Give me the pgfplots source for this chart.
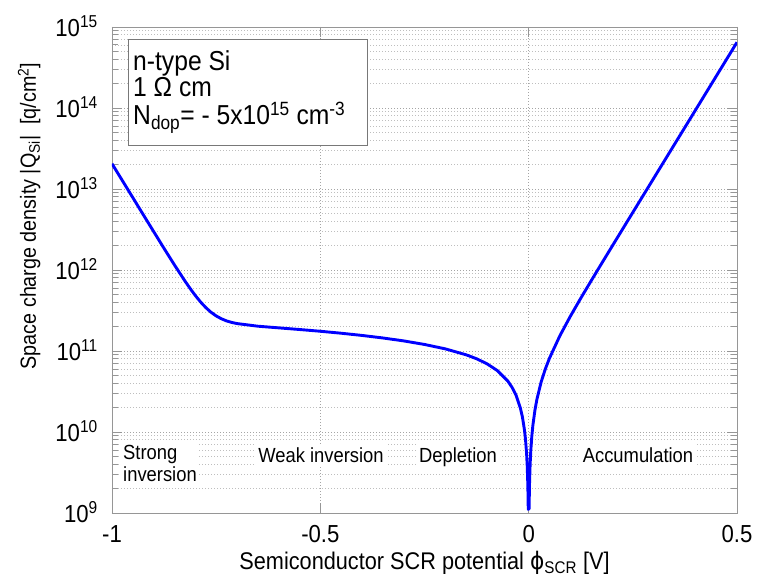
\documentclass[border=0pt]{standalone}
\usepackage{fontspec}
\setmainfont[FakeStretch=0.9]{Liberation Sans}
\newfontfamily\greekfont[FakeStretch=0.9]{DejaVu Sans}
\usepackage{pgfplots}
\pgfplotsset{compat=1.18}
\usepackage{pgfplotstable}

\definecolor{axisgray}{RGB}{150,150,150}
\definecolor{gridgray}{RGB}{165,165,165}
\definecolor{mingridgray}{RGB}{190,190,190}
\definecolor{boxgray}{RGB}{120,120,120}
\definecolor{curveblue}{RGB}{0,0,255}

% Space charge density |Q_Si| (q/cm^2) versus surface potential, n-type Si
\pgfplotstableread{
psi      Q
-1.000   2.051e13
-0.975   1.266e13
-0.950   7.82e12
-0.925   4.817e12
-0.900   2.98e12
-0.875   1.844e12
-0.850   1.152e12
-0.825   7.32e11
-0.8125  5.91e11
-0.800   4.84e11
-0.7875  4.03e11
-0.775   3.44e11
-0.7625  3.01e11
-0.750   2.71e11
-0.7375  2.499e11
-0.725   2.35e11
-0.7125  2.251e11
-0.700   2.18e11
-0.650   2.023e11
-0.600   1.930e11
-0.550   1.842e11
-0.500   1.752e11
-0.450   1.657e11
-0.400   1.556e11
-0.350   1.448e11
-0.300   1.332e11
-0.250   1.204e11
-0.200   1.062e11
-0.150   8.97e10
-0.125   8.02e10
-0.100   6.95e10
-0.075   5.72e10
-0.050   4.25e10
-0.040   3.566e10
-0.030   2.815e10
-0.020   1.982e10
-0.015   1.530e10
-0.010   1.051e10
-0.0075  8.00e9
-0.005   5.42e9
-0.0035  3.83e9
-0.002   2.21e9
-0.001   1.11e9
 0.001   1.13e9
 0.002   2.27e9
 0.0035  4.01e9
 0.005   5.78e9
 0.0075  8.82e9
 0.010   1.196e10
 0.015   1.857e10
 0.020   2.567e10
 0.030   4.153e10
 0.040   6.00e10
 0.050   8.16e10
 0.075   1.546e11
 0.100   2.681e11
 0.125   4.48e11
 0.150   7.36e11
 0.175   1.201e12
 0.200   1.953e12
 0.250   5.145e12
 0.300   1.353e13
 0.350   3.56e13
 0.400   9.36e13
 0.450   2.463e14
 0.500   6.48e14
}\qsi

\begin{document}
\begin{tikzpicture}[x=1bp,y=1bp]
\useasboundingbox (-112,-66) rectangle (645,513);
\begin{axis}[
  at={(0,0)}, anchor=south west,
  width=625bp, height=486bp, scale only axis,
  xmin=-1, xmax=0.5,
  ymode=log, ymin=1e9, ymax=1e15,
  xtick={-1,-0.5,0,0.5},
  xticklabels={-1,-0.5,0,0.5},
  ytick={1e9,1e10,1e11,1e12,1e13,1e14,1e15},
  yticklabels={10\textsuperscript{9},10\textsuperscript{10},10\textsuperscript{11},10\textsuperscript{12},10\textsuperscript{13},10\textsuperscript{14},10\textsuperscript{15}},
  minor ytick={2e9,3e9,4e9,5e9,6e9,7e9,8e9,9e9,
               2e10,3e10,4e10,5e10,6e10,7e10,8e10,9e10,
               2e11,3e11,4e11,5e11,6e11,7e11,8e11,9e11,
               2e12,3e12,4e12,5e12,6e12,7e12,8e12,9e12,
               2e13,3e13,4e13,5e13,6e13,7e13,8e13,9e13,
               2e14,3e14,4e14,5e14,6e14,7e14,8e14,9e14},
  tick align=inside,
  major tick length=10bp, minor tick length=6bp,
  axis line style={axisgray, line width=0.9bp},
  every tick/.style={axisgray, line width=0.9bp},
  xmajorgrids, ymajorgrids, yminorgrids,
  major grid style={gridgray, line width=0.8bp, dash pattern=on 1bp off 2bp},
  minor grid style={mingridgray, line width=0.8bp, dash pattern=on 1bp off 2bp},
  xticklabel style={font=\fontsize{24.7}{29}\selectfont, anchor=base, inner sep=0pt, yshift=-30bp},
  yticklabel style={font=\fontsize{24.7}{29}\selectfont, anchor=base east, inner sep=0pt, xshift=-14bp, yshift=-10bp},
  xlabel={Semiconductor SCR potential {\greekfont ϕ}\textsubscript{SCR} [V]},
  ylabel={Space charge density |Q\textsubscript{Si}|\ \ [q/cm\textsuperscript{2}]},
  xlabel style={font=\fontsize{24.2}{29}\selectfont, at={(axis description cs:0.5,0)}, anchor=base, inner sep=0pt, yshift=-57bp},
  ylabel style={font=\fontsize{22}{26}\selectfont, at={(axis description cs:-0.1216,0.611)}, anchor=base, inner sep=0pt},
]
\addplot[curveblue, line width=2.9bp, line join=round, no markers] table[x=psi, y=Q] {\qsi};

% parameter box
\node[draw=boxgray, fill=white, line width=0.9bp, anchor=north west,
      minimum width=239bp, minimum height=106bp, inner sep=0pt]
  at (axis description cs:0.0256,0.975) {};
\node[anchor=base west, inner sep=0pt, font=\fontsize{27.5}{30}\selectfont]
  at (axis description cs:0.0336,0.9105) {n-type Si};
\node[anchor=base west, inner sep=0pt, font=\fontsize{27.5}{30}\selectfont]
  at (axis description cs:0.0336,0.8566) {1 Ω cm};
\node[anchor=base west, inner sep=0pt, font=\fontsize{27.5}{30}\selectfont]
  at (axis description cs:0.0336,0.7994) {N\textsubscript{dop}= - 5x10\textsuperscript{15} cm\textsuperscript{-3}};

% operating regions
\node[anchor=north west, align=left, fill=white, inner sep=2bp, font=\fontsize{20.5}{22}\selectfont]
  at (axis description cs:0.0144,0.144) {Strong\\inversion};
\node[anchor=base, fill=white, inner sep=3bp, font=\fontsize{20.5}{22}\selectfont]
  at (axis description cs:0.3344,0.1049) {Weak inversion};
\node[anchor=base, fill=white, inner sep=3bp, font=\fontsize{20.5}{22}\selectfont]
  at (axis description cs:0.5536,0.1049) {Depletion};
\node[anchor=base, fill=white, inner sep=3bp, font=\fontsize{20.5}{22}\selectfont]
  at (axis description cs:0.8416,0.1049) {Accumulation};
\end{axis}
\end{tikzpicture}
\end{document}
